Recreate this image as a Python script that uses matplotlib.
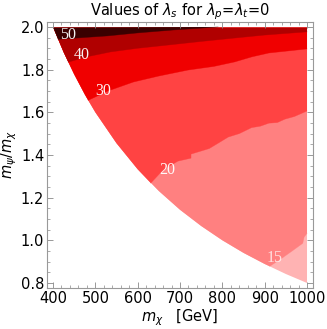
import matplotlib
matplotlib.use("Agg")
import matplotlib.pyplot as plt
from matplotlib.patches import Polygon
from matplotlib.ticker import MultipleLocator, FormatStrFormatter

# Lower-left allowed-region boundary (m_chi, m_psi/m_chi)
bound_x = [400, 425, 450, 475, 500, 550, 600, 650, 700, 750, 800, 850, 900, 950, 1000]
bound_y = [2.0, 1.882, 1.778, 1.684, 1.6, 1.455, 1.333, 1.231, 1.143, 1.067, 1.0, 0.941, 0.889, 0.842, 0.8]

# Contour lines of lambda_s
line15_x = [912, 940, 965, 990, 993, 1000]
line15_y = [0.878, 0.915, 0.950, 0.986, 1.014, 1.033]
line20_x = [631, 660, 695, 726, 726, 769, 790, 814, 840, 869, 890, 910, 930, 948, 970, 1000]
line20_y = [1.268, 1.33, 1.371, 1.385, 1.404, 1.430, 1.455, 1.484, 1.50, 1.528, 1.535, 1.549, 1.552, 1.568, 1.580, 1.606]
line30_x = [483, 530, 590, 650, 719, 780, 829, 870, 910, 1000]
line30_y = [1.656, 1.700, 1.742, 1.770, 1.798, 1.815, 1.836, 1.860, 1.878, 1.897]
line40_x = [436, 480, 536, 600, 671, 750, 829, 900, 1000]
line40_y = [1.835, 1.860, 1.883, 1.900, 1.915, 1.932, 1.948, 1.962, 1.977]
line50_x = [412, 470, 529, 600, 686, 740, 790]
line50_y = [1.942, 1.950, 1.958, 1.972, 1.986, 1.993, 2.0]

band_colors = ["#FFB3B3", "#FF8080", "#FF4343", "#F00000", "#B00000", "#3A0000"]
levels = ["15", "20", "30", "40", "50"]
label_x = [924, 671, 519, 469, 436]
label_y = [0.915, 1.33, 1.70, 1.87, 1.962]

fig = plt.figure(figsize=(3.27, 3.29), dpi=100)
ax = fig.add_axes([0.144, 0.125, 0.813, 0.808])

ytop = 1.997

def region_above(lx, ly):
    pts = list(zip(lx, ly))
    if lx[-1] >= 1000:
        pts.append((1000, ytop))
    back = [(bx, by) for bx, by in zip(bound_x, bound_y) if bx < lx[0]]
    pts.append((400, ytop))
    pts += back
    return pts

base = list(zip(bound_x, bound_y)) + [(1000, ytop), (400, ytop)]
ax.add_patch(Polygon(base, closed=True, facecolor=band_colors[0], edgecolor="none"))
lines = [(line15_x, line15_y), (line20_x, line20_y), (line30_x, line30_y),
         (line40_x, line40_y), (line50_x, line50_y)]
for i, (lx, ly) in enumerate(lines):
    ax.add_patch(Polygon(region_above(lx, ly), closed=True,
                         facecolor=band_colors[i + 1], edgecolor="none"))
    ax.plot(lx, ly, color=band_colors[i + 1], lw=0.4, alpha=0.6)

for t, x, y in zip(levels, label_x, label_y):
    ax.text(x, y, t, color="white", fontsize=11.5, family="Liberation Serif",
            ha="center", va="center", alpha=0.95 if t != "15" else 0.75)

ax.set_xlim(386, 1014)
ax.set_ylim(0.777, 2.023)
ax.xaxis.set_major_locator(MultipleLocator(100))
ax.xaxis.set_minor_locator(MultipleLocator(20))
ax.yaxis.set_major_locator(MultipleLocator(0.2))
ax.yaxis.set_minor_locator(MultipleLocator(0.05))
ax.yaxis.set_major_formatter(FormatStrFormatter("%.1f"))
ax.tick_params(which="both", direction="in", top=True, right=True,
               color="#888888", labelsize=10.5, pad=2)
ax.tick_params(which="major", length=4, width=0.6)
ax.tick_params(which="minor", length=2, width=0.5)
for s in ax.spines.values():
    s.set_color("#999999")
    s.set_linewidth(0.8)

ax.set_title(r"Values of $\lambda_s$ for $\lambda_p$=$\lambda_t$=0", fontsize=10.5, pad=4)
ax.set_xlabel(r"$m_\chi$   [GeV]", fontsize=10.5, labelpad=1)
ax.set_ylabel(r"$m_\psi/m_\chi$", fontsize=10.5, labelpad=1)

fig.savefig("out.png", dpi=100)
